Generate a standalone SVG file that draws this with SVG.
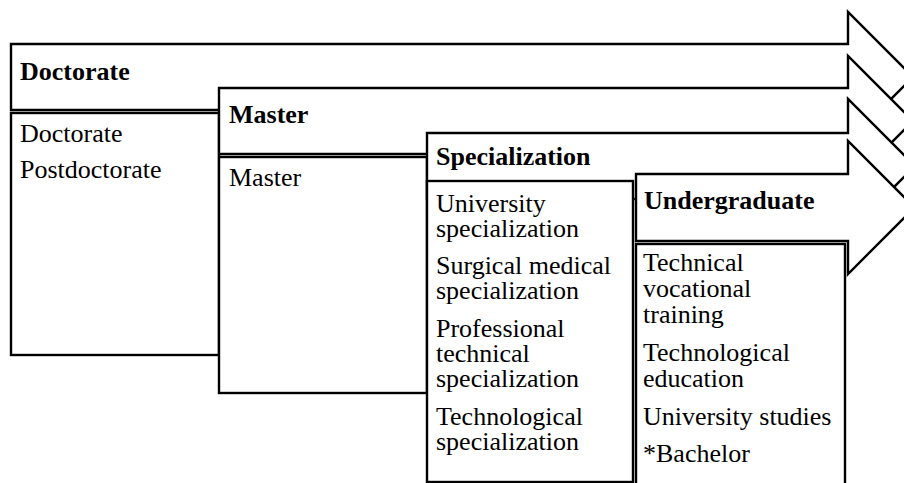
<svg xmlns="http://www.w3.org/2000/svg" width="904" height="483" viewBox="0 0 904 483">
<style>
.shape{fill:#fff;stroke:#000;stroke-width:2.4;stroke-linejoin:miter}
.h{font-family:"Liberation Serif","Times New Roman",serif;font-size:26px;font-weight:bold;fill:#000}
.t{font-family:"Liberation Serif","Times New Roman",serif;font-size:26px;fill:#000}
</style>
<rect width="904" height="483" fill="#fff"/>
<g id="doctorate">
<path class="shape" d="M11,44 H848 V12 L913,77 L848,142 V110 H11 Z"/>
<text class="h" x="20" y="80">Doctorate</text>
<rect class="shape" x="11" y="113" width="208" height="242"/>
<text class="t" x="20" y="142">Doctorate</text>
<text class="t" x="20" y="178">Postdoctorate</text>
</g>
<g id="master">
<path class="shape" d="M219,88 H848 V56 L913,121 L848,186 V154 H219 Z"/>
<text class="h" x="229" y="123">Master</text>
<rect class="shape" x="219" y="157" width="208" height="236"/>
<text class="t" x="229" y="186">Master</text>
</g>
<g id="specialization">
<path class="shape" d="M427,133 H848 V99 L915,166 L848,233 V199 H427 Z"/>
<text class="h" x="436" y="165">Specialization</text>
<rect class="shape" x="427" y="181" width="206" height="301"/>
<text class="t" x="436" y="212">University</text>
<text class="t" x="436" y="237">specialization</text>
<text class="t" x="436" y="274">Surgical medical</text>
<text class="t" x="436" y="299">specialization</text>
<text class="t" x="436" y="337">Professional</text>
<text class="t" x="436" y="362">technical</text>
<text class="t" x="436" y="387">specialization</text>
<text class="t" x="436" y="425">Technological</text>
<text class="t" x="436" y="450">specialization</text>
</g>
<g id="undergraduate">
<path class="shape" d="M636,174 H848 V141 L914.5,207.5 L848,274 V241 H636 Z"/>
<text class="h" x="644" y="209">Undergraduate</text>
<rect class="shape" x="636" y="244" width="209" height="250"/>
<text class="t" x="643" y="271">Technical</text>
<text class="t" x="643" y="297">vocational</text>
<text class="t" x="643" y="323">training</text>
<text class="t" x="643" y="361">Technological</text>
<text class="t" x="643" y="387">education</text>
<text class="t" x="643" y="425">University studies</text>
<text class="t" x="643" y="462">*Bachelor</text>
</g>
<g id="connectors"></g>
</svg>
